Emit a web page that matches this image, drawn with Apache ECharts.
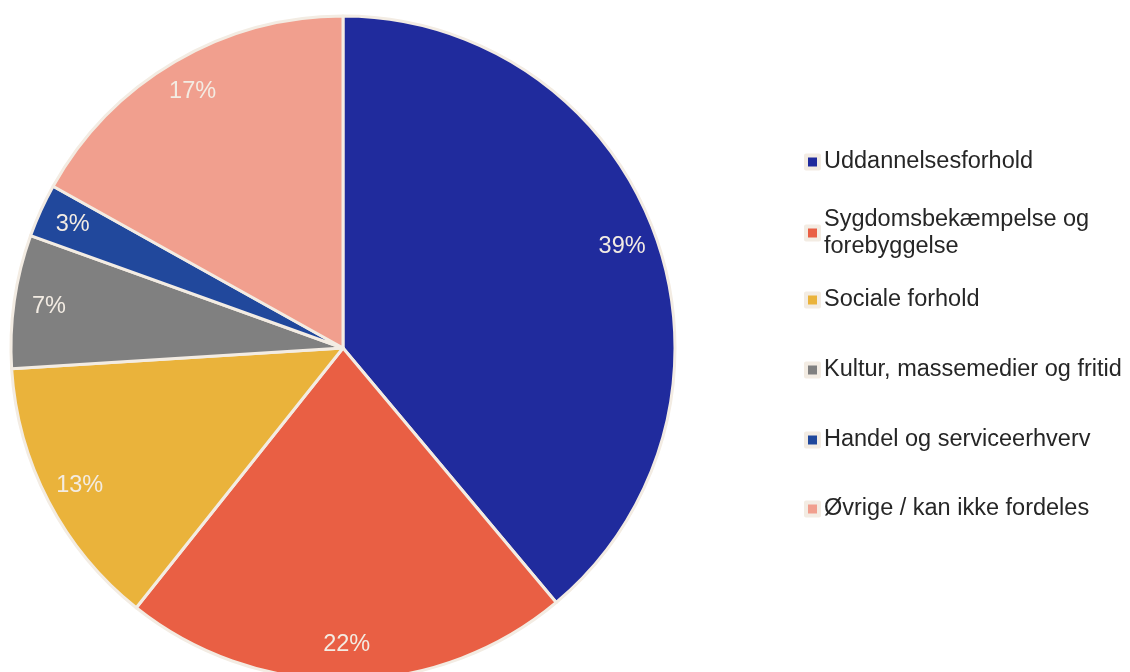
<!DOCTYPE html>
<html><head><meta charset="utf-8">
<script src="https://cdn.jsdelivr.net/npm/echarts@6/dist/echarts.min.js"></script>
<style>html,body{margin:0;padding:0;background:#fff;}#c{width:1130px;height:672px;}</style>
</head><body><div id="c"></div>
<script>
const categories = ['Uddannelsesforhold','Sygdomsbekæmpelse og forebyggelse','Sociale forhold','Kultur, massemedier og fritid','Handel og serviceerhverv','Øvrige / kan ikke fordeles'];
const values = [38.9, 21.8, 13.3, 6.5, 2.6, 16.9];
const colors = ['#202b9d','#e95f44','#eab33b','#808080','#21489c','#f19f8e'];
const legendCenters = [162, 233, 300, 370, 440, 509];

const cream = '#f3ece3';
const chart = echarts.init(document.getElementById('c'));
const data = categories.map((n,i)=>({name:n, value:values[i], itemStyle:{color:colors[i]}}));
const legends = categories.map((n,i)=>{
  const two = n.startsWith('Sygdom');
  return {
    orient:'vertical', left:804, top: two ? legendCenters[i]-40.5 : legendCenters[i]-13.5,
    padding:0, itemWidth:13, itemHeight:13, icon:'rect',
    itemStyle:{borderColor:cream, borderWidth:4},
    data:[n],
    formatter: two ? 'Sygdomsbekæmpelse og\nforebyggelse' : '{name}',
    textStyle:{fontFamily:'Liberation Sans, Arial', fontSize:23.5, color:'#262626', lineHeight:27,
      padding: two ? [27,0,0,0] : 0},
    selectedMode:false
  };
});
chart.setOption({
  animation:false,
  legend: legends,
  series:[
    {type:'pie', center:[343,348], radius:[0,332], startAngle:90, clockwise:true,
     label:{show:false}, labelLine:{show:false},
     itemStyle:{borderColor:cream, borderWidth:3},
     data:data, silent:true},
    {type:'pie', center:[343,348], radius:[256,332], startAngle:90, clockwise:true,
     label:{show:true, position:'inside', color:cream, fontFamily:'Liberation Sans, Arial', fontSize:23.5,
       formatter:p=>Math.round(p.value)+'%'},
     labelLine:{show:false},
     itemStyle:{color:'transparent', borderWidth:0},
     data:categories.map((n,i)=>({name:n, value:values[i]})), silent:true}
  ]
});
</script></body></html>
